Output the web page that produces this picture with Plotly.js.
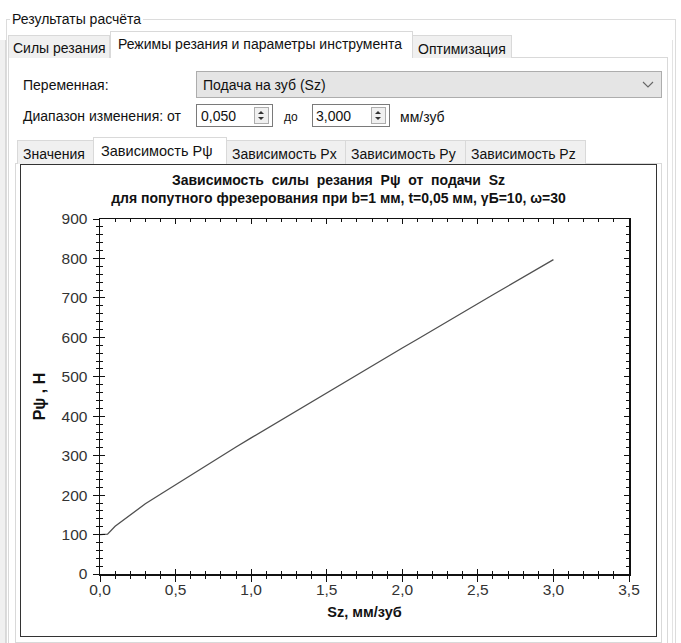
<!DOCTYPE html>
<html><head><meta charset="utf-8">
<script src="https://cdn.plot.ly/plotly-3.0.1.min.js"></script>
<style>
body{margin:0;width:681px;height:643px;overflow:hidden;background:#fff;font-family:"Liberation Sans",Arial,sans-serif;font-size:14px;color:#111;position:relative}
.a{position:absolute;white-space:nowrap;line-height:1}
.box{position:absolute;box-sizing:border-box}
.tab{position:absolute;box-sizing:border-box;background:#f0f0f0;border:1px solid #d9d9d9;border-bottom:none;padding-left:5px;white-space:nowrap;line-height:1}
.tab.sel{background:#fff;z-index:3}
.spin{position:absolute;box-sizing:border-box;border:1px solid #7a7a7a;background:#fff}
.arr{position:absolute;box-sizing:border-box;border:1px solid #adadad;background:#f0f0f0;width:15px;height:17px;top:2px}
</style></head><body>
<!-- left strip -->
<div class="box" style="left:0;top:40px;width:6px;height:603px;background:#f0f0f0;border-right:1px solid #d8d8d8"></div>
<!-- group box -->
<div class="box" style="left:6px;top:19px;width:670px;height:640px;border:1px solid #dcdcdc"></div>
<div class="a" style="left:10px;top:12px;background:#fff;padding:0 2px">Результаты расчёта</div>
<!-- main tab panel -->
<div class="box" style="left:8px;top:57px;width:660px;height:600px;border:1px solid #d9d9d9;background:#fff"></div>
<div class="box" style="left:672px;top:40px;width:1px;height:603px;background:#e3e3e3"></div>
<div class="tab" style="left:8px;top:35px;width:102px;height:23px;padding-top:5px;padding-left:4px">Силы резания</div>
<div class="tab sel" style="left:110px;top:31px;width:303px;height:27px;padding-top:5px;padding-left:7px">Режимы резания и параметры инструмента</div>
<div class="tab" style="left:412px;top:35px;width:100px;height:23px;padding-top:6px">Оптимизация</div>

<div class="a" style="left:23px;top:78px">Переменная:</div>
<div class="box" style="left:196px;top:71px;width:466px;height:27px;border:1px solid #adadad;background:#e5e5e5"></div>
<div class="a" style="left:203px;top:78px">Подача на зуб (Sz)</div>
<svg class="box" style="left:641px;top:80px" width="14" height="10"><polyline points="2,2 7,7 12,2" fill="none" stroke="#666" stroke-width="1.1"/></svg>

<div class="a" style="left:23px;top:109px">Диапазон изменения: от</div>
<div class="spin" style="left:196px;top:104px;width:77px;height:23px"><div class="arr" style="left:57px"></div></div>
<div class="a" style="left:201px;top:109px">0,050</div>
<svg class="box" style="left:254px;top:107px" width="15" height="17"><polygon points="4,7 10,7 7,4" fill="#333"/><polygon points="4,10 10,10 7,13" fill="#333"/></svg>
<div class="a" style="left:284px;top:111px;font-size:12px">до</div>
<div class="spin" style="left:312px;top:104px;width:78px;height:23px"><div class="arr" style="left:58px"></div></div>
<div class="a" style="left:316px;top:109px">3,000</div>
<svg class="box" style="left:371px;top:107px" width="15" height="17"><polygon points="4,7 10,7 7,4" fill="#333"/><polygon points="4,10 10,10 7,13" fill="#333"/></svg>
<div class="a" style="left:400px;top:110px">мм/зуб</div>

<!-- sub tab panel -->
<div class="box" style="left:15px;top:163px;width:647px;height:480px;border:1px solid #d9d9d9;background:#fff"></div>
<div class="tab" style="left:17px;top:140px;width:77px;height:24px;padding-top:6px">Значения</div>
<div class="tab sel" style="left:93px;top:137px;width:134px;height:27px;padding-top:6px;padding-left:7px;font-size:14.5px">Зависимость Pψ</div>
<div class="tab" style="left:226px;top:140px;width:120px;height:24px;padding-top:6px">Зависимость Px</div>
<div class="tab" style="left:345px;top:140px;width:121px;height:24px;padding-top:6px">Зависимость Py</div>
<div class="tab" style="left:465px;top:140px;width:121px;height:24px;padding-top:6px">Зависимость Pz</div>

<!-- chart frame -->
<div class="box" style="left:20px;top:164px;width:637px;height:473px;border:1.5px solid #333;background:#fff"></div>
<div id="chart" style="position:absolute;left:21px;top:165px;width:635px;height:471px"></div>

<script>
// ---- data ----
const sz = [0.0, 0.05, 0.10, 0.20, 0.30, 0.40, 0.50, 0.60, 0.70, 0.80, 0.90, 1.00,
            1.10, 1.20, 1.30, 1.40, 1.50, 1.60, 1.70, 1.80, 1.90, 2.00,
            2.10, 2.20, 2.30, 2.40, 2.50, 2.60, 2.70, 2.80, 2.90, 3.00];
const pPsi = [100, 101, 121, 150, 178, 202, 226, 252, 276, 299, 322, 345,
              368, 391, 414, 437, 459, 482, 505, 527, 550, 573,
              595, 618, 640, 663, 685, 708, 730, 752, 775, 797];
const xTickVals = [0, 0.5, 1.0, 1.5, 2.0, 2.5, 3.0, 3.5];
const yTickVals = [0, 100, 200, 300, 400, 500, 600, 700, 800, 900];
const titleLine1 = 'Зависимость\u00a0 силы\u00a0 резания\u00a0 Pψ\u00a0 от\u00a0 подачи\u00a0 Sz';
const titleLine2 = 'для попутного фрезерования при b=1 мм, t=0,05 мм, γБ=10, ω=30';
const xTitle = 'Sz, мм/зуб';
const yTitle = 'Pψ , H';

const FONT = 'Liberation Sans, Arial, sans-serif';
const tickFont = {family: FONT, size: 15.5, color: '#333'};
const common = {
  showgrid: false, zeroline: false, showline: true, linecolor: '#111', linewidth: 1.5,
  tickcolor: '#111', tickwidth: 1, ticklen: 6
};

const traces = [
  {x: sz, y: pPsi, type: 'scatter', mode: 'lines', line: {color: '#505050', width: 1.3},
   hoverinfo: 'skip', showlegend: false},
  {x: [], y: [], type: 'scatter', mode: 'lines', xaxis: 'x2', yaxis: 'y2',
   hoverinfo: 'skip', showlegend: false}
];

const layout = {
  width: 635, height: 471,
  margin: {l: 79, r: 27, t: 54, b: 62},
  paper_bgcolor: '#fff', plot_bgcolor: '#fff',
  separators: ', ',
  showlegend: false,
  title: {
    text: '<b>' + titleLine1 + '</b><br><b>' + titleLine2 + '</b>',
    font: {family: FONT, size: 14, color: '#111'},
    x: 0.5, xref: 'container', xanchor: 'center', y: 0.958, yref: 'container', yanchor: 'top'
  },
  xaxis: Object.assign({}, common, {
    range: [0, 3.5], tickvals: xTickVals, tickformat: '.1f', ticks: 'outside', mirror: true,
    ticklabelstandoff: -5,
    minor: {ticks: 'outside', dtick: 0.1, tick0: 0, ticklen: 3, tickcolor: '#111', tickwidth: 1, showgrid: false},
    tickfont: tickFont,
    title: {text: '<b>' + xTitle + '</b>', font: {family: FONT, size: 14.5, color: '#111'}, standoff: 10}
  }),
  yaxis: Object.assign({}, common, {
    range: [0, 900], tickvals: yTickVals, ticks: 'outside', mirror: true,
    ticklabelstandoff: 2,
    minor: {ticks: 'outside', dtick: 20, tick0: 0, ticklen: 3, tickcolor: '#111', tickwidth: 1, showgrid: false},
    tickfont: tickFont,
    title: {text: '<b>' + yTitle + '</b>', font: {family: FONT, size: 16, color: '#111'}, standoff: 12}
  }),
  xaxis2: Object.assign({}, common, {
    overlaying: 'x', anchor: 'y2', range: [0, 3.5], tickvals: xTickVals, ticks: 'inside', ticklen: 5,
    mirror: 'allticks', showticklabels: false,
    minor: {ticks: 'inside', dtick: 0.1, tick0: 0, ticklen: 3, tickcolor: '#111', tickwidth: 1, showgrid: false}
  }),
  yaxis2: Object.assign({}, common, {
    overlaying: 'y', anchor: 'x2', range: [0, 900], tickvals: yTickVals, ticks: 'inside', ticklen: 5,
    mirror: 'allticks', showticklabels: false,
    minor: {ticks: 'inside', dtick: 20, tick0: 0, ticklen: 3, tickcolor: '#111', tickwidth: 1, showgrid: false}
  })
};

Plotly.newPlot('chart', traces, layout, {displayModeBar: false, staticPlot: true});
</script>
</body></html>
